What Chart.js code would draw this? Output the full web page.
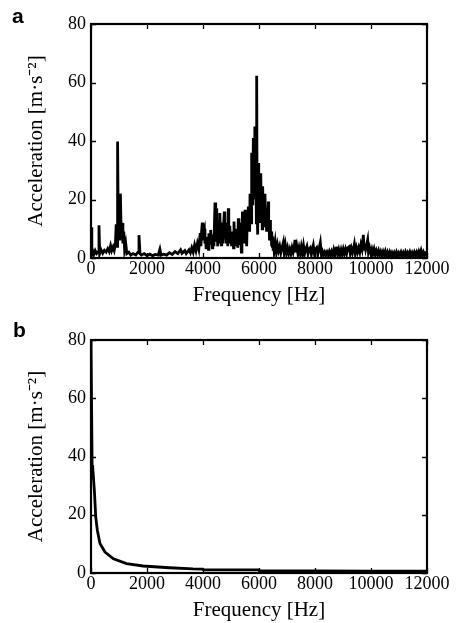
<!DOCTYPE html>
<html>
<head>
<meta charset="utf-8">
<script src="https://cdn.jsdelivr.net/npm/chart.js@4.4.0/dist/chart.umd.min.js"></script>
<style>
  html, body { margin: 0; padding: 0; background: #fff; }
  #wrap { position: relative; width: 457px; height: 623px; }
  .panel { position: absolute; left: 0; width: 457px; }
  #pa { top: 0; height: 310px; }
  #pb { top: 310px; height: 313px; }
</style>
</head>
<body>
<div id="wrap">
  <div class="panel" id="pa"><canvas id="ca"></canvas></div>
  <div class="panel" id="pb"><canvas id="cb"></canvas></div>
</div>
<script>
// ---------- DATA ----------
const panelLabels = ["a", "b"];
const xTitle = "Frequency [Hz]";
const yTitle = "Acceleration [m\u00B7s\u207B\u00B2]";
const xTicks = [0, 2000, 4000, 6000, 8000, 10000, 12000];
const yTicks = [0, 20, 40, 60, 80];

// Panel a: acceleration spectrum (Hz, m/s^2)
const freqA = [
  0,30,60,100,150,200,250,285,310,360,420,480,540,600,650,700,740,790,830,870,
  900,930,950,975,1000,1030,1050,1080,1110,1140,1170,1200,1240,1280,
  1350,1420,1500,1600,1680,1714,1750,1800,1900,2000,2100,2200,2300,2400,2460,2500,2600,2700,2800,2900,3000,3100,3200,3250,3350,3400,3500,3550,3600,3650,3700,3750,3800,3850,
  3900,3925,3950,3975,3995,4020,4050,4070,4090,4110,
  4130,4150,4175,4195,4210,4230,4250,4274,4295,4310,
  4330,4350,4370,4390,4410,4429,4445,4460,4475,4490,
  4505,4520,4535,4548,4565,4580,4595,4607,4625,4640,
  4655,4670,4685,4700,4720,4740,4762,4780,4800,4820,
  4840,4855,4870,4885,4905,4920,4935,4950,4964,4980,
  5000,5020,5040,5055,5070,5090,5107,5125,5140,5160,
  5180,5200,5220,5240,5262,5280,5300,5320,5340,5355,
  5370,5390,5410,5430,5450,5470,5500,5520,5540,5560,
  5580,5600,5619,5635,5650,5665,5679,5695,5710,5725,
  5738,5755,5770,5785,5798,5815,5830,5845,5857,5875,
  5890,5905,5917,5932,5945,5960,5976,5990,6010,6025,
  6040,6055,6071,6085,6100,6115,6131,6150,6170,6190,
  6214,6230,6250,6270,6290,6310,6333,6345,6360,6375,
  6393,6410,6430,6445,6460,6475,6488,6505,6520,6540,
  6580,6620,6660,6700,6740,6780,6820,6869,6900,6940,
  6980,7020,7060,7100,7140,7180,7220,7260,7286,7310,
  7350,7390,7430,7470,7510,7550,7590,7630,7670,7710,
  7750,7790,7830,7870,7910,7940,7980,8020,8060,8100,
  8140,8190,8230,8270,8310,8350,8390,8430,8470,8510,
  8550,8590,8630,8670,8710,8750,8774,8810,8850,8890,
  8930,8970,9010,9050,9090,9130,9170,9226,9260,9300,
  9340,9380,9405,9440,9480,9520,9560,9600,9640,9680,
  9726,9750,9780,9810,9840,9881,9910,9950,9990,10030,
  10070,10110,10150,10190,10230,10270,10310,10350,10390,10430,
  10470,10510,10550,10590,10630,10670,10710,10750,10790,10830,
  10870,10910,10950,10990,11030,11070,11110,11150,11190,11230,
  11270,11310,11350,11390,11430,11470,11510,11550,11590,11630,
  11670,11710,11750,11790,11830,11870,11910,11950,12000
];
const accelA = [
  10.5,1.5,2.5,1.2,2.5,1.5,2.0,11.2,1.5,2.8,1.6,2.6,2.0,3.2,2.2,4.2,2.5,3.8,2.6,4.5,
  11.5,4,39.8,8,12,6,22,7,12,5,9,3,5,1.5,
  2,1,1.5,1,2,7.8,1.5,1,1.5,0.8,1.3,0.8,1.2,1.0,3.0,1.0,1.3,1.0,1.8,1.2,2.2,1.5,2.8,1.6,2.5,1.5,2.8,1.8,3.5,2.0,4.5,2.5,5,3,
  8.5,4,9,12.1,6,9,10,5,7,3.5,
  7.3,4,6,3,8.5,5,7,9.6,5,7,
  3.5,8,6,4,12,19,9,14,6,17,
  8,11,4,13,7,10,5,15.4,8,12,
  4.5,9,11,5,8,12,15.9,7,10,5,
  12,6,9,4,17,8,11,5,10.8,6,
  8,4,9,5,7,3.5,12.5,6,9,4,
  10,6,8,3.5,13.6,7,10,4.5,12,6,
  2,9,15.9,7,11,5,16.5,8,12,4,
  14,10,17.6,12,15,9,22,14,18,12,
  36,20,30,18,41,24,35,20,45,26,
  32,12,62.3,18,26,8,32.5,18,24,12,
  27,16,29,14,22,10,24.5,14,19,11,
  22,12,17,9,15,10,19.3,9,12,6,
  13,7,9,4,9,4,7.3,3,5,2.5,
  5.5,2,4.5,2.5,4,1.8,3.5,5.4,2,4.5,
  1.8,3.5,1.5,3,1.5,3.5,2,4,6.2,2,
  4,1.5,3.5,1.5,3.8,1.5,4.2,1.5,3,4,
  1.5,3,3.5,1.2,3,4.3,1.5,3,3.5,1.2,
  3,5.3,1,2.2,1,2,1,2,1,2.2,
  1,2.2,1,2.8,1.2,3.2,3.9,1.2,2.8,1.2,
  2.8,1.2,3,1.5,3,1.5,3.5,3.9,1.5,3.3,
  1.8,3.5,4.7,1.5,3.5,2,3.5,2,4.5,3,
  7.9,3,5,3,4.3,6.2,2,3.5,1.8,3.1,
  1.5,3,1.2,2.5,1.2,2.5,1,2.2,1,2.2,
  1,2.3,0.8,2,0.8,2,0.8,1.8,0.8,1.8,
  0.8,2,0.8,1.8,1,2,0.8,1.8,0.8,2,
  0.8,1.8,0.8,2,0.8,1.8,0.8,2,1,2,
  0.8,2.2,1,2.5,1,2,0.8,1.8,1.5
];

// Panel b: decaying curve
const freqB = [0,40,60,100,120,170,226,320,500,800,1270,1860,2800,3640,3990,4010,5990,6010,8000,10000,12000];
const accelB = [80,37,36.4,31,28.4,19.2,14.7,10.1,7.2,4.9,3.2,2.4,1.8,1.4,1.35,1.1,1.05,0.75,0.7,0.65,0.6];

// ---------- DRAWING ----------
const serif = "'Liberation Serif', 'Times New Roman', serif";

const boxPlugin = {
  id: 'boxTicks',
  afterDatasetsDraw(chart, args, opts) {
    const ctx = chart.ctx;
    const a = chart.chartArea;
    const xs = chart.scales.x, ys = chart.scales.y;
    const len = 5;
    ctx.save();
    ctx.strokeStyle = '#000';
    ctx.lineWidth = 1.3;
    ctx.beginPath();
    xs.ticks.forEach(t => {
      const px = Math.round(xs.getPixelForValue(t.value)) + 0.5;
      ctx.moveTo(px, a.bottom); ctx.lineTo(px, a.bottom - len);
      ctx.moveTo(px, a.top); ctx.lineTo(px, a.top + len);
    });
    ys.ticks.forEach(t => {
      const py = Math.round(ys.getPixelForValue(t.value)) + 0.5;
      ctx.moveTo(a.left, py); ctx.lineTo(a.left + len, py);
      ctx.moveTo(a.right, py); ctx.lineTo(a.right - len, py);
    });
    ctx.stroke();
    ctx.lineWidth = 2.2;
    ctx.strokeRect(a.left, a.top, a.right - a.left, a.bottom - a.top);
    ctx.fillStyle = '#000';
    ctx.font = "bold 21px 'Liberation Sans', Arial, sans-serif";
    ctx.textBaseline = 'alphabetic';
    ctx.textAlign = 'left';
    ctx.fillText(opts.label, opts.lx, opts.ly);
    ctx.restore();
  }
};

function makeChart(id, fx, fy, label, top, bottom, titlePad, lx, ly) {
  const pts = fx.map((f, i) => ({ x: f, y: fy[i] }));
  return new Chart(document.getElementById(id), {
    type: 'line',
    data: { datasets: [{ data: pts, borderColor: '#000', borderWidth: 2.8, pointRadius: 0, tension: 0, fill: false }] },
    options: {
      responsive: true,
      maintainAspectRatio: false,
      animation: false,
      events: [],
      layout: { padding: { left: 0, right: 30, top: top, bottom: 0 } },
      plugins: { legend: { display: false }, tooltip: { enabled: false }, boxTicks: { label: label, lx: lx, ly: ly } },
      scales: {
        x: {
          type: 'linear', min: 0, max: 12000,
          afterBuildTicks: s => { s.ticks = xTicks.map(v => ({ value: v })); },
          afterFit: s => { s.height = bottom; },
          grid: { display: false, drawTicks: false }, border: { display: false },
          ticks: { color: '#000', font: { family: serif, size: 18 }, maxRotation: 0, autoSkip: false, padding: 0,
                   callback: v => String(v) },
          title: { display: true, text: xTitle, color: '#000', font: { family: serif, size: 21 }, padding: { top: 0, bottom: titlePad } }
        },
        y: {
          min: 0, max: 80,
          afterBuildTicks: s => { s.ticks = yTicks.map(v => ({ value: v })); },
          afterFit: s => { s.width = 91; },
          grid: { display: false, drawTicks: false }, border: { display: false },
          ticks: { color: '#000', font: { family: serif, size: 18 }, padding: 5, callback: v => String(v) },
          title: { display: true, text: yTitle, color: '#000', font: { family: serif, size: 21 }, padding: { top: 24, bottom: 0 } }
        }
      }
    },
    plugins: [boxPlugin]
  });
}

makeChart('ca', freqA, accelA, panelLabels[0], 24, 52, 2, 12, 23);
makeChart('cb', freqB, accelB, panelLabels[1], 30, 50, 0, 13, 27);
</script>
</body>
</html>
